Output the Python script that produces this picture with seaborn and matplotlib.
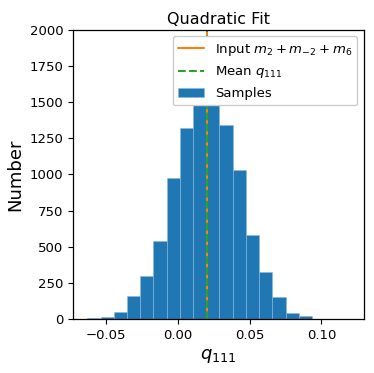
import numpy as np
import pandas as pd
import matplotlib
matplotlib.use("Agg")
import matplotlib.pyplot as plt
import seaborn as sns

# ---- data ----
bin_start = -0.0627
bin_width = 0.00918
counts = [7, 16, 51, 160, 298, 539, 978, 1320, 1545, 1540,
          1343, 1027, 583, 326, 155, 42, 21, 2, 1, 1]
input_value = 0.0201
mean_value = 0.0201
title = "Quadratic Fit"
xlabel = r"$q_{111}$"
ylabel = "Number"
xticks = [-0.05, 0.00, 0.05, 0.10]
yticks = [0, 250, 500, 750, 1000, 1250, 1500, 1750, 2000]

edges = bin_start + bin_width * np.arange(len(counts) + 1)
centers = (edges[:-1] + edges[1:]) / 2
df = pd.DataFrame({"q": centers, "n": counts})

sns.set_style("ticks", {"text.color": "black", "axes.labelcolor": "black",
                        "xtick.color": "black", "ytick.color": "black",
                        "axes.edgecolor": "black"})
plt.rcParams['font.family'] = ['DejaVu Sans']
plt.rcParams['mathtext.fontset'] = 'dejavusans'

fig = plt.figure(figsize=(3.74, 3.73), dpi=100)
ax = fig.add_axes([0.195, 0.145, 0.778, 0.775])

sns.histplot(data=df, x="q", weights="n", bins=list(edges), ax=ax,
             color="#1f77b4", alpha=1.0, edgecolor="#8fb8d8",
             linewidth=0.4, label="Samples")
ax.axvline(input_value, color="#ff7f0e", lw=1.5, ls="-",
           label=r"Input $m_2+m_{-2}+m_6$")
ax.axvline(mean_value, color="#2ca02c", lw=1.5, ls="--",
           label=r"Mean $q_{111}$")

ax.set_xlim(-0.0728, 0.1295)
ax.set_ylim(0, 2000)
ax.set_xticks(xticks)
ax.set_yticks(yticks)
ax.tick_params(labelsize=9.5, length=3.5, width=0.8)
ax.set_title(title, fontsize=11.5, pad=4)
ax.set_xlabel(xlabel, fontsize=13)
ax.set_ylabel(ylabel, fontsize=13)
for s in ax.spines.values():
    s.set_visible(True)
    s.set_linewidth(0.9)

h, l = ax.get_legend_handles_labels()
order = [l.index(r"Input $m_2+m_{-2}+m_6$"), l.index(r"Mean $q_{111}$"), l.index("Samples")]
ax.legend([h[i] for i in order], [l[i] for i in order], loc="upper right",
          fontsize=9.5, framealpha=1.0, fancybox=True)

fig.savefig("out.png", dpi=100)
